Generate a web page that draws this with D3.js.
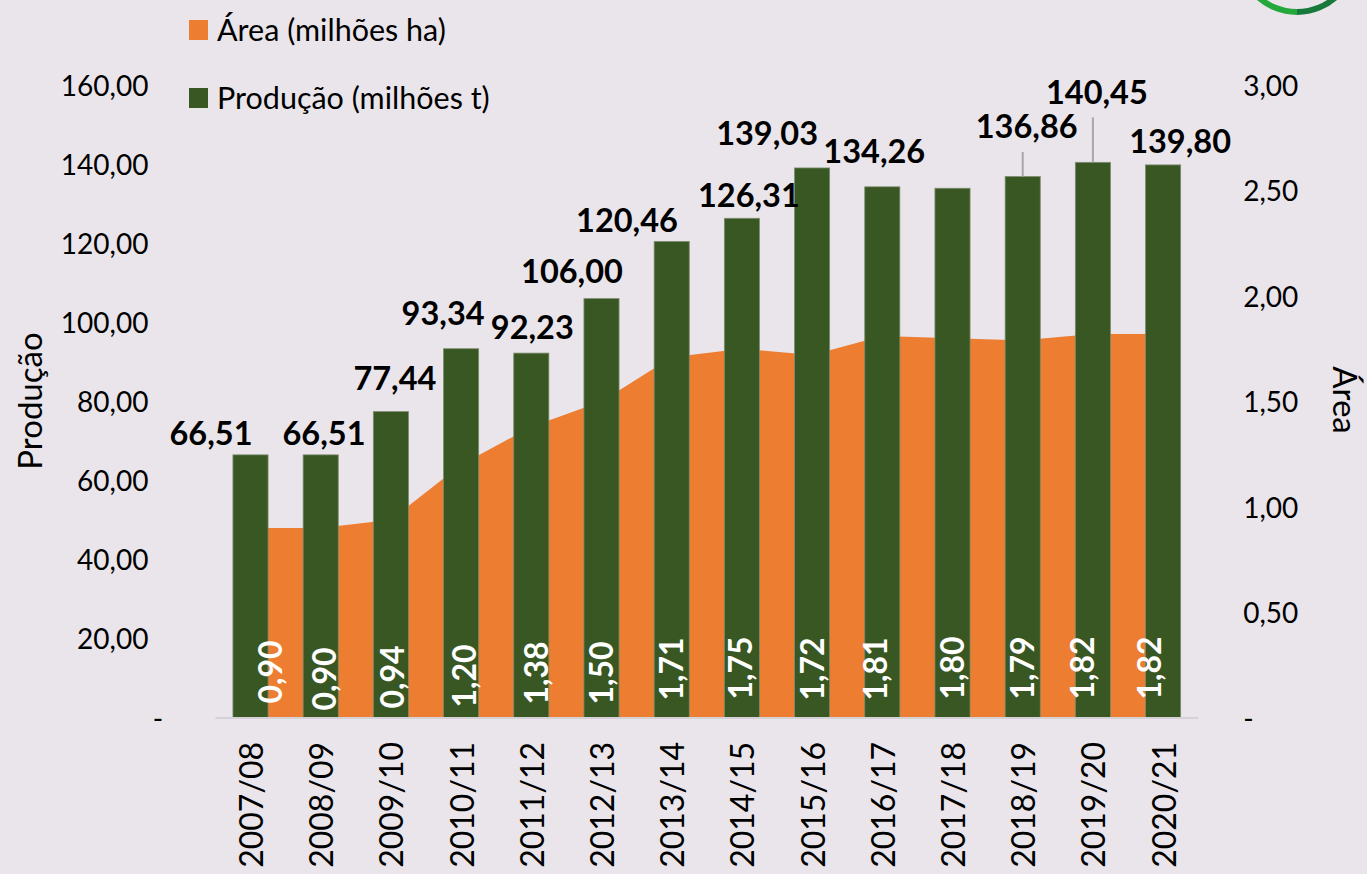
<!DOCTYPE html>
<html>
<head>
<meta charset="utf-8">
<script src="https://cdn.jsdelivr.net/npm/d3@7"></script>
<style>
  html, body { margin: 0; padding: 0; background: #e9e5ea; }
  svg { display: block; }
  text { font-family: Lato, "Open Sans", sans-serif; }
</style>
</head>
<body>
<svg id="chart" width="1367" height="874"></svg>
<script>
// ---- data ----
const categories = ["2007/08","2008/09","2009/10","2010/11","2011/12","2012/13","2013/14","2014/15","2015/16","2016/17","2017/18","2018/19","2019/20","2020/21"];
const producao = [66.51, 66.51, 77.44, 93.34, 92.23, 106.00, 120.46, 126.31, 139.03, 134.26, 133.90, 136.86, 140.45, 139.80];
const area = [0.90, 0.90, 0.94, 1.20, 1.38, 1.50, 1.71, 1.75, 1.72, 1.81, 1.80, 1.79, 1.82, 1.82];
const producaoLabelShown = [true, true, true, true, true, true, true, true, true, true, false, true, true, true];
const leftTicks = [0, 20, 40, 60, 80, 100, 120, 140, 160];
const rightTicks = [0, 0.5, 1.0, 1.5, 2.0, 2.5, 3.0];
const seriesNames = ["Área (milhões ha)", "Produção (milhões t)"];
const axisTitles = { left: "Produção", right: "Área" };

// ---- layout (label nudges, as placed in the original) ----
const prodLabelNudge = [
  {dx:-39.5, dy:-21}, {dx:3.3, dy:-21}, {dx:4, dy:-33}, {dx:-18, dy:-35},
  {dx:1, dy:-26}, {dx:-29.5, dy:-27}, {dx:-44.7, dy:-20.5}, {dx:7, dy:-23},
  {dx:-45, dy:-34}, {dx:-8, dy:-35}, {dx:0, dy:0}, {dx:4, dy:-49.6, leader:true},
  {dx:4, dy:-70, leader:true}, {dx:17, dy:-23}
];
const areaLabelNudge = [
  {dx:20, y:-46}, {dx:4, y:-39}, {dx:2, y:-41}, {dx:3, y:-42}, {dx:5, y:-45},
  {dx:0, y:-45}, {dx:0, y:-49}, {dx:-1, y:-50}, {dx:0, y:-49}, {dx:-7, y:-49},
  {dx:0, y:-50}, {dx:0, y:-50}, {dx:-10, y:-50}, {dx:-14, y:-50}
];

const W = 1367, H = 874;
const plot = { left: 215.4, right: 1198.2, top: 85, bottom: 718 };
const colors = { bar: "#385723", area: "#ED7D31", bg: "#e9e5ea", text: "#000000" };

const locale = d3.formatLocale({ decimal: ",", thousands: ".", grouping: [3], currency: ["R$", ""] });
const fmt = locale.format(".2f");

const svg = d3.select("#chart");
svg.append("rect").attr("width", W).attr("height", H).attr("fill", colors.bg);

const x = d3.scaleBand().domain(categories).range([plot.left, plot.right]).paddingInner(0.5).paddingOuter(0.25);
const yL = d3.scaleLinear().domain([0, 160]).range([plot.bottom, plot.top]);
const yR = d3.scaleLinear().domain([0, 3]).range([plot.bottom, plot.top]);
const bw = x.bandwidth();
const cx = c => x(c) + bw / 2;

// logo fragment (top right)
const logo = svg.append("g").attr("transform", "translate(1297,-46)");
const ring = d3.arc().innerRadius(55).outerRadius(61);
logo.append("path").attr("d", ring({startAngle: Math.PI, endAngle: 1.5 * Math.PI})).attr("fill", "#25a83b");
logo.append("path").attr("d", ring({startAngle: 0.5 * Math.PI, endAngle: Math.PI})).attr("fill", "#177a3a");

// area series
const areaGen = d3.area()
  .x((d, i) => cx(categories[i]))
  .y0(plot.bottom)
  .y1(d => yR(d));
svg.append("path").datum(area).attr("d", areaGen).attr("fill", colors.area);

// bars
svg.append("g").selectAll("rect").data(producao).join("rect")
  .attr("x", (d, i) => x(categories[i]))
  .attr("y", d => yL(d))
  .attr("width", bw)
  .attr("height", d => plot.bottom - yL(d))
  .attr("fill", colors.bar)
  .attr("stroke", "#7d8c6e")
  .attr("stroke-width", 0.8);

// baseline
svg.append("line")
  .attr("x1", plot.left).attr("x2", plot.right)
  .attr("y1", plot.bottom).attr("y2", plot.bottom)
  .attr("stroke", "#d4d2d6").attr("stroke-width", 2);

// left axis
const axL = svg.append("g").attr("transform", `translate(${plot.left},0)`)
  .call(d3.axisLeft(yL).tickValues(leftTicks).tickSize(0).tickPadding(67)
    .tickFormat(d => d === 0 ? "-" : fmt(d)));
axL.select(".domain").remove();
axL.selectAll("text").attr("font-size", 28).attr("fill", colors.text)
  .attr("font-family", "Lato, sans-serif").attr("dy", "0.36em");
axL.selectAll(".tick").filter(d => d === 0).select("text")
  .attr("text-anchor", "middle").attr("x", 158 - plot.left);

// right axis
const axR = svg.append("g").attr("transform", `translate(${plot.right},0)`)
  .call(d3.axisRight(yR).tickValues(rightTicks).tickSize(0).tickPadding(45)
    .tickFormat(d => d === 0 ? "-" : fmt(d)));
axR.select(".domain").remove();
axR.selectAll("text").attr("font-size", 28).attr("fill", colors.text)
  .attr("font-family", "Lato, sans-serif").attr("dy", "0.36em");

// x axis labels (rotated)
svg.append("g").selectAll("text").data(categories).join("text")
  .attr("transform", d => `translate(${cx(d) + 1 + 11.5},742) rotate(-90)`)
  .attr("text-anchor", "end")
  .attr("font-size", 32)
  .attr("fill", colors.text)
  .text(d => d);

// area value labels (white, rotated)
svg.append("g").selectAll("text").data(area).join("text")
  .attr("transform", (d, i) => `translate(${cx(categories[i]) + areaLabelNudge[i].dx + 11.5},${plot.bottom + areaLabelNudge[i].y}) rotate(-90)`)
  .attr("text-anchor", "middle")
  .attr("font-size", 32)
  .attr("font-weight", "bold")
  .attr("fill", "#ffffff")
  .text(d => fmt(d));

// production labels
const pl = svg.append("g");
producao.forEach((v, i) => {
  if (!producaoLabelShown[i]) return;
  const n = prodLabelNudge[i];
  const lx = cx(categories[i]) + n.dx;
  const ly = yL(v) + n.dy;
  if (n.leader) {
    pl.append("line")
      .attr("x1", cx(categories[i])).attr("x2", cx(categories[i]))
      .attr("y1", ly + 25).attr("y2", yL(v))
      .attr("stroke", "#a6a6a6").attr("stroke-width", 2);
  }
  pl.append("text")
    .attr("x", lx).attr("y", ly + 11.5)
    .attr("text-anchor", "middle")
    .attr("font-size", 32.5)
    .attr("font-weight", "bold")
    .attr("fill", colors.text)
    .text(fmt(v));
});

// axis titles
svg.append("text")
  .attr("transform", "translate(42,401) rotate(-90)")
  .attr("text-anchor", "middle").attr("font-size", 33).attr("fill", colors.text)
  .text(axisTitles.left);
svg.append("text")
  .attr("transform", "translate(1333,400) rotate(90)")
  .attr("text-anchor", "middle").attr("font-size", 33).attr("fill", colors.text)
  .text(axisTitles.right);

// legend
const legColors = [colors.area, colors.bar];
const leg = svg.append("g");
seriesNames.forEach((name, i) => {
  const yy = 20 + i * 68;
  leg.append("rect").attr("x", 189).attr("y", yy).attr("width", 19).attr("height", 20).attr("fill", legColors[i]);
  leg.append("text").attr("x", 217).attr("y", yy + 21).attr("font-size", 30.5).attr("fill", colors.text).text(name);
});
</script>
</body>
</html>
